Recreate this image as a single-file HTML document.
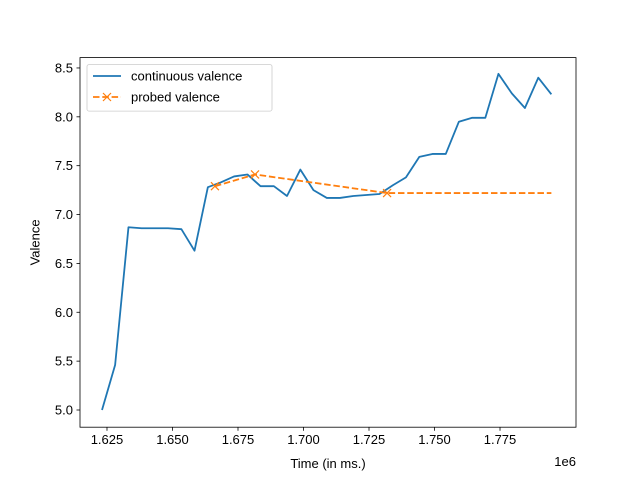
<!DOCTYPE html>
<html><head><meta charset="utf-8"><style>
body{margin:0;background:#fff}
svg text{font-family:"Liberation Sans","DejaVu Sans",sans-serif;font-size:13px;fill:#000}
</style></head><body>
<svg id="chart" width="640" height="480" xmlns="http://www.w3.org/2000/svg">
<rect width="640" height="480" fill="#fff"/>
<g id="plot"></g>
</svg>
<script>
const times=[1.6231,1.6281,1.6332,1.6382,1.6433,1.6483,1.6534,1.6584,1.6635,1.6685,1.6735,1.6786,1.6836,1.6887,1.6937,1.6988,1.7038,1.7089,1.7139,1.7190,1.7240,1.7290,1.7341,1.7391,1.7442,1.7492,1.7543,1.7593,1.7644,1.7694,1.7744,1.7795,1.7845,1.7896,1.7946];
const continuousValence=[5.00,5.46,6.87,6.86,6.86,6.86,6.85,6.63,7.28,7.33,7.39,7.41,7.29,7.29,7.19,7.46,7.25,7.17,7.17,7.19,7.20,7.21,7.30,7.38,7.59,7.62,7.62,7.95,7.99,7.99,8.44,8.24,8.09,8.40,8.23];
const probedTimes=[1.6662,1.6815,1.7319,1.7946];
const probedValence=[7.29,7.41,7.22,7.22];
const probedMarkers=[true,true,true,false];
const xTicks=[1.625,1.650,1.675,1.700,1.725,1.750,1.775];
const xTickLabels=["1.625","1.650","1.675","1.700","1.725","1.750","1.775"];
const yTicks=[5.0,5.5,6.0,6.5,7.0,7.5,8.0,8.5];
const yTickLabels=["5.0","5.5","6.0","6.5","7.0","7.5","8.0","8.5"];

const L=80,R=576,T=57.6,B=427.2;
const xMin=1.6147,xMax=1.8040,yMin=4.824,yMax=8.606;
const X=t=>L+(t-xMin)/(xMax-xMin)*(R-L);
const Y=v=>B-(v-yMin)/(yMax-yMin)*(B-T);
const NS="http://www.w3.org/2000/svg";
const g=document.getElementById('plot');
function mk(tag,attrs,parent){const e=document.createElementNS(NS,tag);for(const k in attrs)e.setAttribute(k,attrs[k]);(parent||g).appendChild(e);return e;}

const frame=mk('rect',{x:L,y:T,width:R-L,height:B-T,fill:'none',stroke:'#000','stroke-width':0.8});



xTicks.forEach((t,i)=>{
  const tk=mk('line',{x1:X(t),x2:X(t),y1:B,y2:B+3.5,stroke:'#000','stroke-width':0.8});
  
  
  const tx=mk('text',{x:X(t),y:B+17,'text-anchor':'middle'});
  tx.textContent=xTickLabels[i];
  
  
});
yTicks.forEach((v,i)=>{
  const tk=mk('line',{x1:L-3.5,x2:L,y1:Y(v),y2:Y(v),stroke:'#000','stroke-width':0.8});
  
  
  const tx=mk('text',{x:L-7,y:Y(v)+4.5,'text-anchor':'end'});
  tx.textContent=yTickLabels[i];
  
  
});

const cont=mk('polyline',{points:times.map((t,i)=>X(t)+','+Y(continuousValence[i])).join(' '),fill:'none',stroke:'#1f77b4','stroke-width':1.8,'stroke-linejoin':'round'});



const prob=mk('polyline',{points:probedTimes.map((t,i)=>X(t)+','+Y(probedValence[i])).join(' '),fill:'none',stroke:'#ff7f0e','stroke-width':1.8,'stroke-dasharray':'6.5,2.8'});


probedTimes.forEach((t,i)=>{
  if(!probedMarkers[i])return;
  const cx=X(t),cy=Y(probedValence[i]),s=4;
  const m=mk('path',{d:`M${cx-s},${cy-s}L${cx+s},${cy+s}M${cx-s},${cy+s}L${cx+s},${cy-s}`,stroke:'#ff7f0e','stroke-width':1.2,fill:'none'});
  
  
});
</script>
<script>
(function(){
const svg=document.getElementById('chart');
const NS="http://www.w3.org/2000/svg";
function mk(tag,attrs){const e=document.createElementNS(NS,tag);for(const k in attrs)e.setAttribute(k,attrs[k]);svg.appendChild(e);return e;}
const xl=mk('text',{x:328,y:468,'text-anchor':'middle'});xl.textContent='Time (in ms.)';


const off=mk('text',{x:576,y:466,'text-anchor':'end'});off.textContent='1e6';


const yl=mk('text',{x:0,y:0,'text-anchor':'middle',transform:'translate(39.5,242.4) rotate(-90)'});yl.textContent='Valence';


const lg=mk('rect',{x:87,y:64.6,width:185,height:46.5,rx:2,fill:'#fff','fill-opacity':0.8,stroke:'#ccc','stroke-width':0.8});


const l1=mk('line',{x1:93,x2:121,y1:76,y2:76,stroke:'#1f77b4','stroke-width':1.8});


const t1=mk('text',{x:131,y:80.5});t1.textContent='continuous valence';


const l2=mk('line',{x1:93,x2:121,y1:97,y2:97,stroke:'#ff7f0e','stroke-width':1.8,'stroke-dasharray':'6.5,2.8'});


const m2=mk('path',{d:'M103,93L111,101M103,101L111,93',stroke:'#ff7f0e','stroke-width':1.2});


const t2=mk('text',{x:131,y:101.5});t2.textContent='probed valence';


})();
</script>
</body></html>
